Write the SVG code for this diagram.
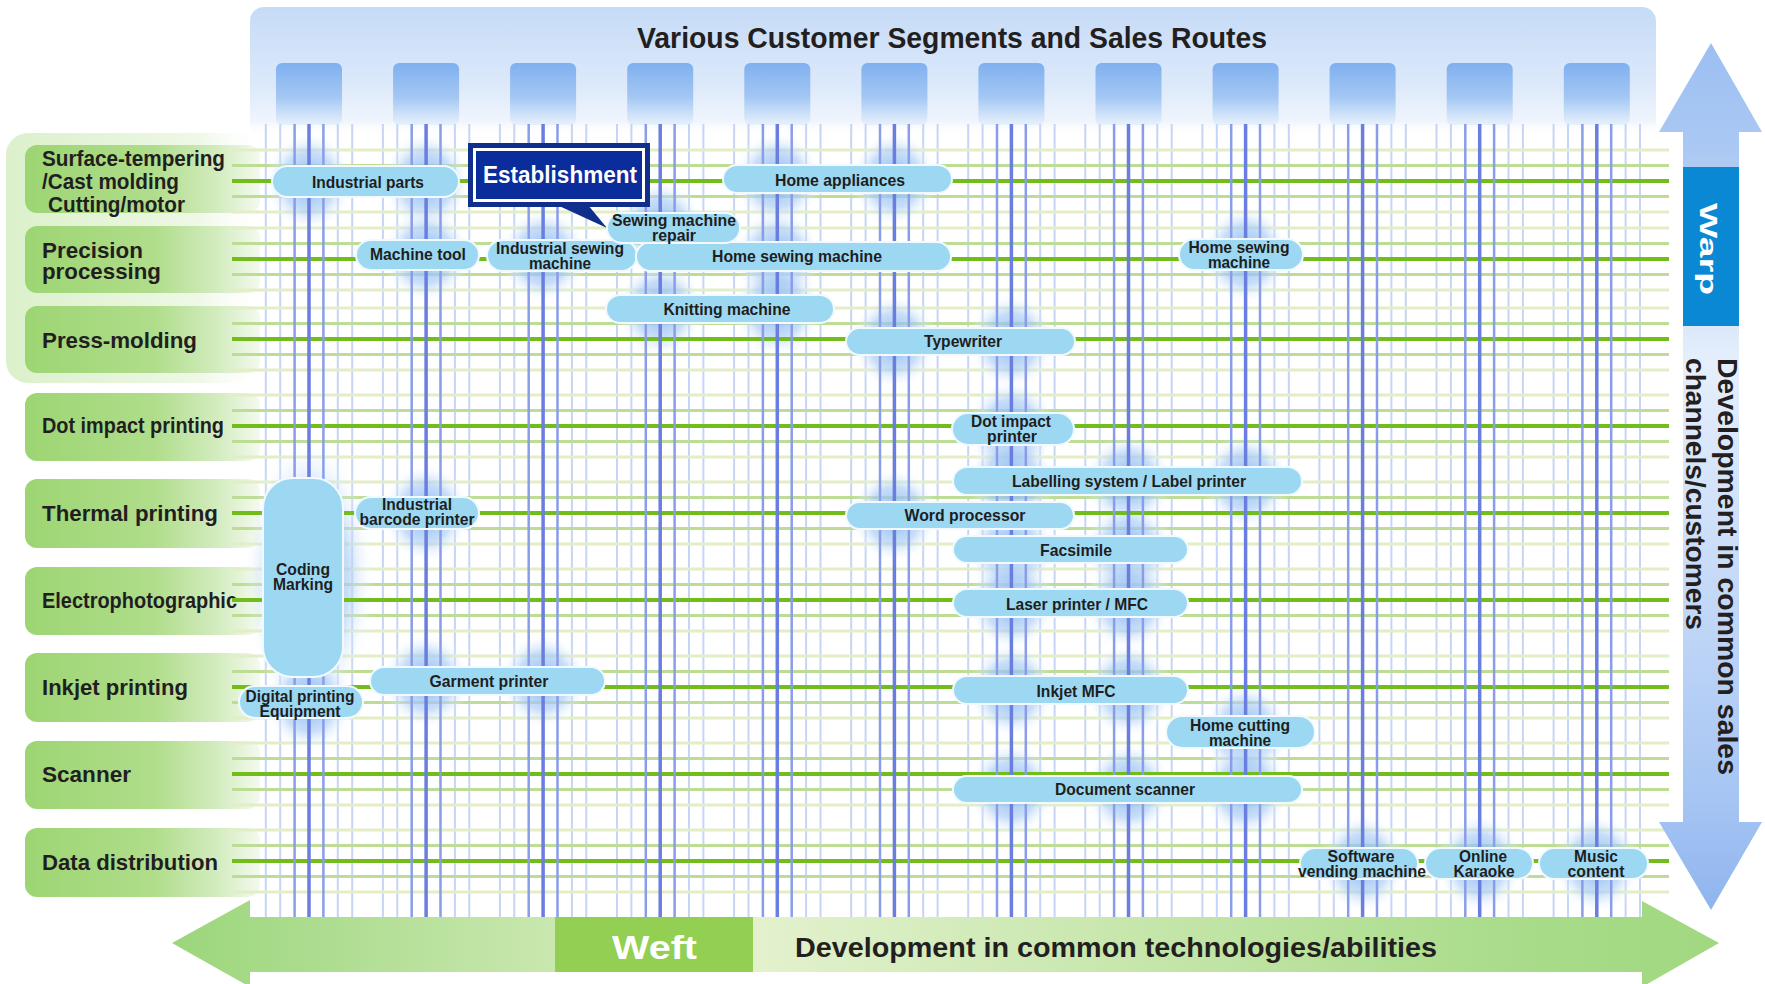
<svg xmlns="http://www.w3.org/2000/svg" xmlns:xlink="http://www.w3.org/1999/xlink" width="1765" height="984" viewBox="0 0 1765 984">
<style>
.lbl{font-family:"Liberation Sans",Arial,sans-serif;font-weight:bold;font-size:22px;fill:#221e1f}
.pt{font-family:"Liberation Sans",Arial,sans-serif;font-weight:bold;font-size:17px;fill:#1e1e1e;text-anchor:middle}
.pill{fill:#9dd8f2;stroke:#f2faff;stroke-width:2}
.box{fill:url(#lbox)}
.glow{fill:url(#glow)}
.sq{fill:url(#sq)}
</style>
<defs>
<linearGradient id="hdr" x1="0" y1="0" x2="0" y2="1">
<stop offset="0" stop-color="#c6dbf7"/><stop offset="0.6" stop-color="#dce9fa"/><stop offset="0.88" stop-color="#f0f5fd"/><stop offset="1" stop-color="#ffffff" stop-opacity="0"/>
</linearGradient>
<linearGradient id="sq" x1="0" y1="0" x2="0" y2="1">
<stop offset="0" stop-color="#80b0f0"/><stop offset="0.55" stop-color="#a3c7f4"/><stop offset="1" stop-color="#e8f1fc"/>
</linearGradient>
<linearGradient id="lbox" x1="0" y1="0" x2="1" y2="0">
<stop offset="0" stop-color="#9dd573"/><stop offset="0.55" stop-color="#b0dd8b"/><stop offset="0.82" stop-color="#d3ecbf"/><stop offset="1" stop-color="#f4faee"/>
</linearGradient>
<linearGradient id="outer" x1="0" y1="0" x2="1" y2="0">
<stop offset="0" stop-color="#dcf0cb"/><stop offset="0.75" stop-color="#eef8e6"/><stop offset="1" stop-color="#ffffff" stop-opacity="0.3"/>
</linearGradient>
<radialGradient id="glow">
<stop offset="0" stop-color="#7eaef0" stop-opacity="0.95"/><stop offset="0.6" stop-color="#abcdf5" stop-opacity="0.65"/><stop offset="1" stop-color="#ffffff" stop-opacity="0"/>
</radialGradient>
<linearGradient id="weft" x1="172" y1="0" x2="1719" y2="0" gradientUnits="userSpaceOnUse">
<stop offset="0" stop-color="#9bd67b"/><stop offset="0.24" stop-color="#c8e7ae"/><stop offset="0.38" stop-color="#e3f1cd"/><stop offset="0.86" stop-color="#aadc8b"/><stop offset="1" stop-color="#a0d880"/>
</linearGradient>
<linearGradient id="warp" x1="0" y1="43" x2="0" y2="910" gradientUnits="userSpaceOnUse">
<stop offset="0" stop-color="#9cbff2"/><stop offset="0.12" stop-color="#aac8f3"/><stop offset="0.37" stop-color="#e6effc"/><stop offset="0.87" stop-color="#a6c5f3"/><stop offset="1" stop-color="#8fb4ee"/>
</linearGradient>
<g id="vLight"><path d="M-43.2 124V917M-28.8 124V917M28.8 124V917M43.2 124V917" stroke="#c6d5f6" stroke-width="2" fill="none"/></g>
<g id="vDark"><path d="M-14.4 124V917M14.4 124V917" stroke="#8a9de8" stroke-width="2.5" fill="none"/><path d="M0 124V917" stroke="#6a7edf" stroke-width="3.5" fill="none"/></g>
<g id="hThin"><path d="M232 -31H1669M232 31H1669" stroke="#e1eec6" stroke-width="3" fill="none"/><path d="M232 -15.5H1669M232 15.5H1669" stroke="#bddc95" stroke-width="3" fill="none"/></g>
<g id="hThick"><path d="M232 0H1669" stroke="#72bd1c" stroke-width="4" fill="none"/></g>
</defs>
<rect width="1765" height="984" fill="#ffffff"/>

<g id="header">
<rect x="250" y="7" width="1406" height="130" rx="14" fill="url(#hdr)"/>
<text x="952" y="47.5" text-anchor="middle" textLength="630" lengthAdjust="spacingAndGlyphs" style="font-family:'Liberation Sans',Arial,sans-serif;font-weight:bold;font-size:29px;fill:#231f20">Various Customer Segments and Sales Routes</text>
<rect class="sq" x="276" y="63" width="66" height="62" rx="6"/>
<rect class="sq" x="393.1" y="63" width="66" height="62" rx="6"/>
<rect class="sq" x="510.1" y="63" width="66" height="62" rx="6"/>
<rect class="sq" x="627.2" y="63" width="66" height="62" rx="6"/>
<rect class="sq" x="744.3" y="63" width="66" height="62" rx="6"/>
<rect class="sq" x="861.4" y="63" width="66" height="62" rx="6"/>
<rect class="sq" x="978.4" y="63" width="66" height="62" rx="6"/>
<rect class="sq" x="1095.5" y="63" width="66" height="62" rx="6"/>
<rect class="sq" x="1212.6" y="63" width="66" height="62" rx="6"/>
<rect class="sq" x="1329.6" y="63" width="66" height="62" rx="6"/>
<rect class="sq" x="1446.7" y="63" width="66" height="62" rx="6"/>
<rect class="sq" x="1563.8" y="63" width="66" height="62" rx="6"/>
</g>

<g id="row-labels">
<rect x="6" y="133" width="254" height="250" rx="22" fill="url(#outer)"/>
<g id="lbl-surface"><rect class="box" x="25" y="145" width="235" height="68" rx="12"/>
<text class="lbl" x="42" y="166" textLength="183" lengthAdjust="spacingAndGlyphs">Surface-tempering</text>
<text class="lbl" x="42" y="189" textLength="137" lengthAdjust="spacingAndGlyphs">/Cast molding</text>
<text class="lbl" x="48" y="212" textLength="137" lengthAdjust="spacingAndGlyphs">Cutting/motor</text></g>
<g id="lbl-precision"><rect class="box" x="25" y="226" width="235" height="67" rx="12"/>
<text class="lbl" x="42" y="258" textLength="101" lengthAdjust="spacingAndGlyphs">Precision</text>
<text class="lbl" x="42" y="279" textLength="119" lengthAdjust="spacingAndGlyphs">processing</text></g>
<g id="lbl-press"><rect class="box" x="25" y="306" width="235" height="67" rx="12"/>
<text class="lbl" x="42" y="348" textLength="155" lengthAdjust="spacingAndGlyphs">Press-molding</text></g>
<g id="lbl-dot"><rect class="box" x="25" y="393" width="235" height="68" rx="12"/>
<text class="lbl" x="42" y="433" textLength="182" lengthAdjust="spacingAndGlyphs">Dot impact printing</text></g>
<g id="lbl-thermal"><rect class="box" x="25" y="479" width="235" height="69" rx="12"/>
<text class="lbl" x="42" y="520.5" textLength="176" lengthAdjust="spacingAndGlyphs">Thermal printing</text></g>
<g id="lbl-electro"><rect class="box" x="25" y="567" width="235" height="68" rx="12"/>
<text class="lbl" x="42" y="608" textLength="195" lengthAdjust="spacingAndGlyphs">Electrophotographic</text></g>
<g id="lbl-inkjet"><rect class="box" x="25" y="653" width="235" height="69" rx="12"/>
<text class="lbl" x="42" y="695" textLength="146" lengthAdjust="spacingAndGlyphs">Inkjet printing</text></g>
<g id="lbl-scanner"><rect class="box" x="25" y="741" width="235" height="68" rx="12"/>
<text class="lbl" x="42" y="782" textLength="89" lengthAdjust="spacingAndGlyphs">Scanner</text></g>
<g id="lbl-data"><rect class="box" x="25" y="828" width="235" height="69" rx="12"/>
<text class="lbl" x="42" y="869.5" textLength="176" lengthAdjust="spacingAndGlyphs">Data distribution</text></g>
</g>

<g id="connectors-light">
<use href="#vLight" x="309"/><use href="#vLight" x="426.1"/><use href="#vLight" x="543.1"/><use href="#vLight" x="660.2"/>
<use href="#vLight" x="777.3"/><use href="#vLight" x="894.4"/><use href="#vLight" x="1011.4"/><use href="#vLight" x="1128.5"/>
<use href="#vLight" x="1245.6"/><use href="#vLight" x="1362.6"/><use href="#vLight" x="1479.7"/><use href="#vLight" x="1596.8"/>
<use href="#hThin" y="181"/><use href="#hThin" y="259"/><use href="#hThin" y="339"/><use href="#hThin" y="426"/>
<use href="#hThin" y="513"/><use href="#hThin" y="600"/><use href="#hThin" y="687"/><use href="#hThin" y="774"/><use href="#hThin" y="861"/>
</g>

<g id="glows">
<ellipse class="glow" cx="309" cy="181.5" rx="44" ry="50"/>
<ellipse class="glow" cx="426.1" cy="181.5" rx="44" ry="50"/>
<ellipse class="glow" cx="777.3" cy="179" rx="44" ry="48"/>
<ellipse class="glow" cx="894.4" cy="179" rx="44" ry="48"/>
<ellipse class="glow" cx="660.2" cy="228" rx="44" ry="48"/>
<ellipse class="glow" cx="426.1" cy="255" rx="44" ry="48"/>
<ellipse class="glow" cx="543.1" cy="255.5" rx="44" ry="48"/>
<ellipse class="glow" cx="777.3" cy="256.5" rx="44" ry="48"/>
<ellipse class="glow" cx="1245.6" cy="254.5" rx="44" ry="50"/>
<ellipse class="glow" cx="660.2" cy="309" rx="44" ry="48"/>
<ellipse class="glow" cx="777.3" cy="309" rx="44" ry="48"/>
<ellipse class="glow" cx="894.4" cy="341.5" rx="44" ry="48"/>
<ellipse class="glow" cx="1011.4" cy="341.5" rx="44" ry="48"/>
<ellipse class="glow" cx="1011.4" cy="429" rx="44" ry="50"/>
<ellipse class="glow" cx="1011.4" cy="481" rx="44" ry="48"/>
<ellipse class="glow" cx="1128.5" cy="481" rx="44" ry="48"/>
<ellipse class="glow" cx="1245.6" cy="481" rx="44" ry="48"/>
<ellipse class="glow" cx="894.4" cy="515.5" rx="44" ry="48"/>
<ellipse class="glow" cx="1011.4" cy="549.5" rx="44" ry="48"/>
<ellipse class="glow" cx="1128.5" cy="549.5" rx="44" ry="48"/>
<ellipse class="glow" cx="1011.4" cy="603" rx="44" ry="48"/>
<ellipse class="glow" cx="1128.5" cy="603" rx="44" ry="48"/>
<ellipse class="glow" cx="1011.4" cy="690" rx="44" ry="48"/>
<ellipse class="glow" cx="1128.5" cy="690" rx="44" ry="48"/>
<ellipse class="glow" cx="1245.6" cy="732" rx="44" ry="50"/>
<ellipse class="glow" cx="1011.4" cy="789.5" rx="44" ry="48"/>
<ellipse class="glow" cx="1128.5" cy="789.5" rx="44" ry="48"/>
<ellipse class="glow" cx="1245.6" cy="789.5" rx="44" ry="48"/>
<ellipse class="glow" cx="309" cy="577" rx="66" ry="140"/>
<ellipse class="glow" cx="426.1" cy="513" rx="44" ry="50"/>
<ellipse class="glow" cx="426.1" cy="681" rx="44" ry="48"/>
<ellipse class="glow" cx="543.1" cy="681" rx="44" ry="48"/>
<ellipse class="glow" cx="309" cy="702" rx="44" ry="50"/>
<ellipse class="glow" cx="1362.6" cy="863.5" rx="44" ry="50"/>
<ellipse class="glow" cx="1479.7" cy="863.5" rx="44" ry="50"/>
<ellipse class="glow" cx="1596.8" cy="863.5" rx="44" ry="50"/>
</g>

<g id="connectors-main">
<use href="#hThick" y="181"/><use href="#hThick" y="259"/><use href="#hThick" y="339"/><use href="#hThick" y="426"/>
<use href="#hThick" y="513"/><use href="#hThick" y="600"/><use href="#hThick" y="687"/><use href="#hThick" y="774"/><use href="#hThick" y="861"/>
<use href="#vDark" x="309"/><use href="#vDark" x="426.1"/><use href="#vDark" x="543.1"/><use href="#vDark" x="660.2"/>
<use href="#vDark" x="777.3"/><use href="#vDark" x="894.4"/><use href="#vDark" x="1011.4"/><use href="#vDark" x="1128.5"/>
<use href="#vDark" x="1245.6"/><use href="#vDark" x="1362.6"/><use href="#vDark" x="1479.7"/><use href="#vDark" x="1596.8"/>
</g>

<g id="weft-arrow">
<polygon points="172,943 250,900 250,917 1642,917 1642,901 1719,943 1642,987 1642,972 250,972 250,987" fill="url(#weft)"/>
<rect x="555" y="917" width="198" height="55" fill="#92cf52"/>
<text x="654.5" y="959" text-anchor="middle" textLength="85" lengthAdjust="spacingAndGlyphs" style="font-family:'Liberation Sans',Arial,sans-serif;font-weight:bold;font-size:34px;fill:#ffffff">Weft</text>
<text x="795" y="957" textLength="642" lengthAdjust="spacingAndGlyphs" style="font-family:'Liberation Sans',Arial,sans-serif;font-weight:bold;font-size:28px;fill:#231f20">Development in common technologies/abilities</text>
</g>

<g id="warp-arrow">
<polygon points="1711,43 1762,132 1739,132 1739,822 1762,822 1711,910 1659,822 1683,822 1683,132 1659,132" fill="url(#warp)"/>
<rect x="1683" y="167" width="56" height="159" fill="#0a88d4"/>
<text transform="translate(1700,249) rotate(90)" text-anchor="middle" textLength="92" lengthAdjust="spacingAndGlyphs" style="font-family:'Liberation Sans',Arial,sans-serif;font-weight:bold;font-size:24px;fill:#ffffff">Warp</text>
<text transform="translate(1718,358) rotate(90)" textLength="417" lengthAdjust="spacingAndGlyphs" style="font-family:'Liberation Sans',Arial,sans-serif;font-weight:bold;font-size:28px;fill:#231f20">Development in common sales</text>
<text transform="translate(1686,358) rotate(90)" textLength="272" lengthAdjust="spacingAndGlyphs" style="font-family:'Liberation Sans',Arial,sans-serif;font-weight:bold;font-size:28px;fill:#231f20">channels/customers</text>
</g>

<g id="nodes">
<g id="n-industrial-parts"><rect class="pill" x="272" y="166" width="187" height="31" rx="15.5"/>
<text class="pt" x="368" y="188" textLength="112" lengthAdjust="spacingAndGlyphs">Industrial parts</text></g>
<g id="n-home-appliances"><rect class="pill" x="723" y="165" width="229" height="28" rx="14"/>
<text class="pt" x="840" y="185.5" textLength="130" lengthAdjust="spacingAndGlyphs">Home appliances</text></g>
<g id="n-establishment">
<rect x="468" y="143" width="182" height="64" fill="#102f8c"/>
<polygon points="557,205 588,205 607,228" fill="#102f8c"/>
<rect x="474.5" y="149.5" width="169" height="51" fill="#0b2c9b" stroke="#ffffff" stroke-width="3"/>
<text x="560" y="183" text-anchor="middle" textLength="154" lengthAdjust="spacingAndGlyphs" style="font-family:'Liberation Sans',Arial,sans-serif;font-weight:bold;font-size:23px;fill:#ffffff">Establishment</text></g>
<g id="n-machine-tool"><rect class="pill" x="356" y="240" width="123" height="30" rx="15"/>
<text class="pt" x="418" y="260" textLength="96" lengthAdjust="spacingAndGlyphs">Machine tool</text></g>
<g id="n-industrial-sewing"><rect class="pill" x="487" y="240" width="150" height="31" rx="15.5"/>
<text class="pt" x="560" y="253.5" textLength="128" lengthAdjust="spacingAndGlyphs">Industrial sewing</text>
<text class="pt" x="560" y="268.5" textLength="62" lengthAdjust="spacingAndGlyphs">machine</text></g>
<g id="n-home-sewing-1"><rect class="pill" x="636" y="242" width="315" height="29" rx="14.5"/>
<text class="pt" x="797" y="261.5" textLength="170" lengthAdjust="spacingAndGlyphs">Home sewing machine</text></g>
<g id="n-sewing-repair"><rect class="pill" x="607" y="213" width="133" height="30" rx="15"/>
<text class="pt" x="674" y="226" textLength="124" lengthAdjust="spacingAndGlyphs">Sewing machine</text>
<text class="pt" x="674" y="240.5" textLength="44" lengthAdjust="spacingAndGlyphs">repair</text></g>
<g id="n-home-sewing-2"><rect class="pill" x="1179" y="239" width="124" height="31" rx="15.5"/>
<text class="pt" x="1239" y="252.5" textLength="101" lengthAdjust="spacingAndGlyphs">Home sewing</text>
<text class="pt" x="1239" y="267.5" textLength="62" lengthAdjust="spacingAndGlyphs">machine</text></g>
<g id="n-knitting"><rect class="pill" x="606" y="295" width="228" height="28" rx="14"/>
<text class="pt" x="727" y="314.5" textLength="127" lengthAdjust="spacingAndGlyphs">Knitting machine</text></g>
<g id="n-typewriter"><rect class="pill" x="846" y="328" width="229" height="27" rx="13.5"/>
<text class="pt" x="963" y="347" textLength="78" lengthAdjust="spacingAndGlyphs">Typewriter</text></g>
<g id="n-dot-impact-printer"><rect class="pill" x="952" y="413" width="122" height="32" rx="16"/>
<text class="pt" x="1011" y="426.5" textLength="80" lengthAdjust="spacingAndGlyphs">Dot impact</text>
<text class="pt" x="1012" y="441.5" textLength="50" lengthAdjust="spacingAndGlyphs">printer</text></g>
<g id="n-labelling"><rect class="pill" x="953" y="467" width="349" height="28" rx="14"/>
<text class="pt" x="1129" y="487" textLength="234" lengthAdjust="spacingAndGlyphs">Labelling system / Label printer</text></g>
<g id="n-word-processor"><rect class="pill" x="846" y="502" width="228" height="27" rx="13.5"/>
<text class="pt" x="965" y="520.5" textLength="121" lengthAdjust="spacingAndGlyphs">Word processor</text></g>
<g id="n-facsimile"><rect class="pill" x="953" y="536" width="235" height="27" rx="13.5"/>
<text class="pt" x="1076" y="556" textLength="72" lengthAdjust="spacingAndGlyphs">Facsimile</text></g>
<g id="n-laser"><rect class="pill" x="953" y="589" width="235" height="28" rx="14"/>
<text class="pt" x="1077" y="609.5" textLength="142" lengthAdjust="spacingAndGlyphs">Laser printer / MFC</text></g>
<g id="n-inkjet-mfc"><rect class="pill" x="953" y="676" width="235" height="28" rx="14"/>
<text class="pt" x="1076" y="696.5" textLength="79" lengthAdjust="spacingAndGlyphs">Inkjet MFC</text></g>
<g id="n-home-cutting"><rect class="pill" x="1166" y="716" width="149" height="32" rx="16"/>
<text class="pt" x="1240" y="730.5" textLength="100" lengthAdjust="spacingAndGlyphs">Home cutting</text>
<text class="pt" x="1240" y="745.5" textLength="62" lengthAdjust="spacingAndGlyphs">machine</text></g>
<g id="n-document-scanner"><rect class="pill" x="953" y="776" width="349" height="27" rx="13.5"/>
<text class="pt" x="1125" y="795" textLength="140" lengthAdjust="spacingAndGlyphs">Document scanner</text></g>
<g id="n-coding"><rect class="pill" x="263" y="478" width="80" height="199" rx="30"/>
<text class="pt" x="303" y="575" textLength="54" lengthAdjust="spacingAndGlyphs">Coding</text>
<text class="pt" x="303" y="590" textLength="60" lengthAdjust="spacingAndGlyphs">Marking</text></g>
<g id="n-barcode"><rect class="pill" x="355" y="497" width="124" height="32" rx="16"/>
<text class="pt" x="417" y="510" textLength="70" lengthAdjust="spacingAndGlyphs">Industrial</text>
<text class="pt" x="417" y="525" textLength="115" lengthAdjust="spacingAndGlyphs">barcode printer</text></g>
<g id="n-garment"><rect class="pill" x="370" y="667" width="235" height="28" rx="14"/>
<text class="pt" x="489" y="687" textLength="119" lengthAdjust="spacingAndGlyphs">Garment printer</text></g>
<g id="n-digital"><rect class="pill" x="239" y="686" width="124" height="32" rx="16"/>
<text class="pt" x="300" y="701.5" textLength="109" lengthAdjust="spacingAndGlyphs">Digital printing</text>
<text class="pt" x="300" y="716.5" textLength="81" lengthAdjust="spacingAndGlyphs">Equipment</text></g>
<g id="n-software"><rect class="pill" x="1300" y="848" width="118" height="31" rx="15.5"/>
<text class="pt" x="1361" y="861.5" textLength="67" lengthAdjust="spacingAndGlyphs">Software</text>
<text class="pt" x="1362" y="876.5" textLength="128" lengthAdjust="spacingAndGlyphs">vending machine</text></g>
<g id="n-karaoke"><rect class="pill" x="1425" y="848" width="108" height="31" rx="15.5"/>
<text class="pt" x="1483" y="861.5" textLength="48" lengthAdjust="spacingAndGlyphs">Online</text>
<text class="pt" x="1484" y="876.5" textLength="61" lengthAdjust="spacingAndGlyphs">Karaoke</text></g>
<g id="n-music"><rect class="pill" x="1539" y="848" width="109" height="31" rx="15.5"/>
<text class="pt" x="1596" y="861.5" textLength="44" lengthAdjust="spacingAndGlyphs">Music</text>
<text class="pt" x="1596" y="876.5" textLength="57" lengthAdjust="spacingAndGlyphs">content</text></g>
</g>
</svg>
